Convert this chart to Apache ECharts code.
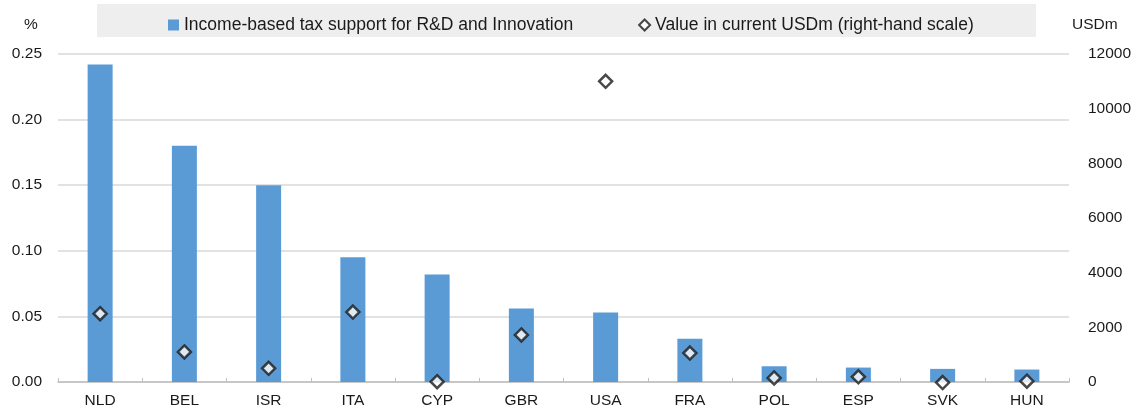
<!DOCTYPE html>
<html>
<head>
<meta charset="utf-8">
<script src="https://cdn.jsdelivr.net/npm/echarts@6/dist/echarts.min.js"></script>
<style>
  html, body { margin: 0; padding: 0; background: #fff; }
  #chart { width: 1137px; height: 417px; }
</style>
</head>
<body>
<div id="chart"></div>
<script>
// 国家
const countries = ['NLD', 'BEL', 'ISR', 'ITA', 'CYP', 'GBR', 'USA', 'FRA', 'POL', 'ESP', 'SVK', 'HUN'];
// 柱子: % (左轴)
const supportPct = [0.242, 0.180, 0.150, 0.095, 0.082, 0.056, 0.053, 0.033, 0.012, 0.011, 0.010, 0.0095];
// 菱形: USDm (右轴)
const valueUsdm = [2500, 1100, 500, 2560, 10, 1720, 11000, 1060, 150, 190, -20, 30];
// 图例名称
const barName = 'Income-based tax support for R&D and Innovation';
const dotName = 'Value in current USDm (right-hand scale)';

const font = '"Liberation Sans", Arial, sans-serif';
const chart = echarts.init(document.getElementById('chart'), null, { renderer: 'canvas' });

const option = {
  animation: false,
  textStyle: { fontFamily: font },
  grid: { left: 58, right: 68, top: 54, bottom: 35 },
  // 图例背景 + 轴标题
  graphic: [
    {
      type: 'rect', left: 97, top: 4, z: -1,
      shape: { width: 939, height: 33 },
      style: { fill: '#eeeeee' }
    },
    {
      type: 'text', left: 24, top: 17,
      style: { text: '%', fontSize: 15.5, fill: '#1a1a1a', fontFamily: font }
    },
    {
      type: 'text', left: 1072, top: 17,
      style: { text: 'USDm', fontSize: 15.5, fill: '#1a1a1a', fontFamily: font }
    }
  ],
  legend: {
    left: 163,
    top: 11,
    itemWidth: 11,
    itemHeight: 11,
    itemGap: 65,
    textStyle: { fontSize: 17.5, color: '#1a1a1a', fontFamily: font },
    data: [
      { name: barName, icon: 'rect' },
      { name: dotName, icon: 'diamond' }
    ]
  },
  xAxis: {
    type: 'category',
    data: countries,
    axisLine: { lineStyle: { color: '#bfbfbf', width: 1.5 } },
    axisTick: { show: true, inside: true, length: 4, lineStyle: { color: '#bfbfbf' } },
    axisLabel: { fontSize: 15.5, color: '#1a1a1a', margin: 11 }
  },
  yAxis: [
    {
      type: 'value',
      min: 0, max: 0.25, interval: 0.05,
      axisLine: { show: false },
      axisTick: { show: false },
      splitLine: { lineStyle: { color: '#d9d9d9', width: 1.5 } },
      axisLabel: {
        fontSize: 15.5, color: '#1a1a1a', margin: 16,
        formatter: v => v.toFixed(2)
      }
    },
    {
      type: 'value',
      min: 0, max: 12000, interval: 2000,
      axisLine: { show: false },
      axisTick: { show: false },
      splitLine: { show: false },
      axisLabel: {
        fontSize: 15.5, color: '#1a1a1a', margin: 19,
        formatter: v => String(v)
      }
    }
  ],
  series: [
    {
      name: barName,
      type: 'bar',
      data: supportPct,
      barWidth: 25,
      itemStyle: { color: '#5b9bd5' }
    },
    {
      name: dotName,
      type: 'scatter',
      yAxisIndex: 1,
      data: valueUsdm,
      clip: false,
      symbol: 'diamond',
      symbolSize: 13,
      itemStyle: { color: '#ffffff', borderColor: '#1a1a1a', borderWidth: 2.5 },
      z: 3
    }
  ]
};

chart.setOption(option);
</script>
</body>
</html>
